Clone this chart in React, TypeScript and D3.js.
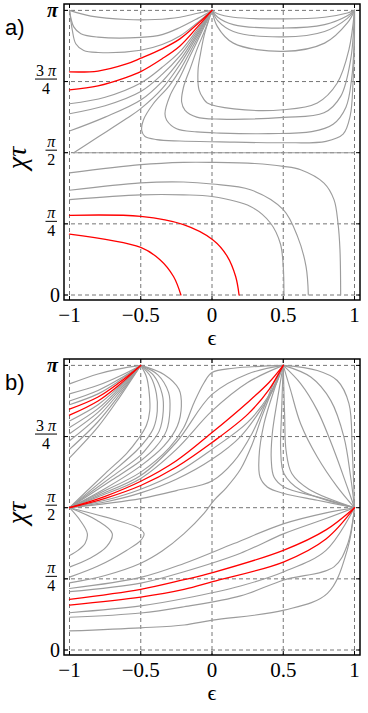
import React from "react";
import * as d3 from "d3";

type Pt = [number, number];

// ε axis ticks
const xTicks = [-1, -0.5, 0, 0.5, 1];
const xTickLabels = ["−1", "−0.5", "0", "0.5", "1"];
// χτ axis ticks in units of π
const yTicks = [0, 0.25, 0.5, 0.75, 1];
const yTickNumerators = ["0", "π", "π", "3 π", "π"];
const yTickDenominators = ["", "4", "2", "4", ""];

// ---------- Panel a ----------
const panelAGray: Pt[][] = [
  [[-1, 1], [-0.85, 0.98], [-0.6, 0.968], [-0.4, 0.968], [-0.225, 0.976], [-0.1, 0.99], [0, 1]],
  [[-1, 1], [-0.97, 0.942], [-0.92, 0.918], [-0.8, 0.906], [-0.5, 0.905], [-0.35, 0.915], [-0.225, 0.94], [-0.1, 0.972], [0, 1]],
  [[-1, 1], [-0.98, 0.93], [-0.956, 0.883], [-0.9, 0.859], [-0.8, 0.852], [-0.5, 0.86], [-0.35, 0.88], [-0.225, 0.91], [-0.1, 0.958], [0, 1]],
  [[-1, 0.672], [-0.75, 0.695], [-0.5, 0.745], [-0.35, 0.8], [-0.225, 0.855], [-0.1, 0.935], [0, 1]],
  [[-1, 0.637], [-0.75, 0.665], [-0.5, 0.715], [-0.35, 0.775], [-0.225, 0.84], [-0.1, 0.928], [0, 1]],
  [[-1, 0.576], [-0.75, 0.625], [-0.5, 0.685], [-0.35, 0.75], [-0.225, 0.825], [-0.1, 0.921], [0, 1]],
  [[-0.97, 0.5], [-0.8, 0.555], [-0.6, 0.62], [-0.5, 0.655], [-0.35, 0.725], [-0.225, 0.81], [-0.1, 0.914], [0, 1]],
  [[0, 1], [-0.1, 0.905], [-0.225, 0.79], [-0.3, 0.735], [-0.412, 0.672], [-0.482, 0.614], [-0.493, 0.578], [-0.47, 0.557], [-0.388, 0.546], [-0.225, 0.541], [0.056, 0.538], [0.5, 0.535], [0.8, 0.54], [0.92, 0.565], [0.97, 0.63], [0.99, 0.75], [0.999, 0.88], [1, 1]],
  [[0, 1], [-0.1, 0.895], [-0.154, 0.84], [-0.225, 0.765], [-0.295, 0.7], [-0.33, 0.637], [-0.318, 0.614], [-0.248, 0.584], [-0.107, 0.573], [0.056, 0.569], [0.4, 0.567], [0.7, 0.574], [0.85, 0.6], [0.94, 0.66], [0.98, 0.76], [0.997, 0.88], [1, 1]],
  [[0, 1], [-0.05, 0.93], [-0.1, 0.87], [-0.15, 0.8], [-0.2, 0.73], [-0.213, 0.678], [-0.189, 0.649], [-0.107, 0.625], [0.056, 0.618], [0.5, 0.624], [0.786, 0.64], [0.903, 0.698], [0.973, 0.827], [1, 1]],
  [[0, 1], [-0.03, 0.955], [-0.056, 0.91], [-0.08, 0.85], [-0.098, 0.79], [-0.091, 0.721], [-0.06, 0.69], [-0.033, 0.675], [0.154, 0.654], [0.5, 0.651], [0.739, 0.675], [0.879, 0.745], [0.961, 0.862], [1, 1]],
  [[0, 1], [0.04, 0.988], [0.15, 0.976], [0.5, 0.97], [0.79, 0.976], [0.95, 0.991], [1, 1]],
  [[0, 1], [0.04, 0.976], [0.15, 0.95], [0.5, 0.938], [0.79, 0.95], [0.95, 0.981], [1, 1]],
  [[0, 1], [0.04, 0.964], [0.15, 0.926], [0.5, 0.907], [0.79, 0.926], [0.95, 0.972], [1, 1]],
  [[0, 1], [0.037, 0.944], [0.15, 0.885], [0.5, 0.856], [0.79, 0.885], [0.95, 0.956], [1, 1]],
  [[-0.97, 0.5], [0, 0.5], [1, 0.5]],
  [[-1, 0.429], [-0.5, 0.458], [-0.2, 0.466], [0, 0.466], [0.3, 0.462], [0.5, 0.452], [0.622, 0.44], [0.786, 0.393], [0.856, 0.335], [0.884, 0.253], [0.898, 0.159], [0.903, 0]],
  [[-1, 0.368], [-0.5, 0.394], [-0.2, 0.397], [0, 0.39], [0.27, 0.37], [0.5, 0.3], [0.6, 0.206], [0.66, 0.1], [0.676, 0]],
  [[-1, 0.335], [-0.5, 0.352], [-0.2, 0.352], [0, 0.346], [0.27, 0.311], [0.41, 0.253], [0.48, 0.18], [0.5, 0.1], [0.505, 0]],
];
const panelARed: Pt[][] = [
  [[-1, 0.784], [-0.8, 0.787], [-0.6, 0.812], [-0.5, 0.832], [-0.35, 0.865], [-0.225, 0.9], [-0.1, 0.953], [0, 1]],
  [[-1, 0.721], [-0.8, 0.735], [-0.6, 0.765], [-0.5, 0.785], [-0.35, 0.83], [-0.225, 0.875], [-0.1, 0.943], [0, 1]],
  [[-1, 0.28], [-0.5, 0.276], [-0.2, 0.247], [0.005, 0.194], [0.107, 0.136], [0.166, 0.065], [0.19, 0]],
  [[-1, 0.214], [-0.5, 0.167], [-0.365, 0.124], [-0.27, 0.065], [-0.218, 0]],
];

// ---------- Panel b ----------
const panelBGray: Pt[][] = [
  // fan from (-0.5, π) to the left edge
  [[-1, 0.935], [-0.8, 0.97], [-0.65, 0.988], [-0.5, 1]],
  [[-1, 0.9], [-0.8, 0.93], [-0.65, 0.962], [-0.5, 1]],
  [[-1, 0.875], [-0.8, 0.912], [-0.65, 0.952], [-0.5, 1]],
  [[-1, 0.862], [-0.8, 0.9], [-0.65, 0.946], [-0.5, 1]],
  [[-1, 0.805], [-0.8, 0.862], [-0.65, 0.926], [-0.5, 1]],
  [[-1, 0.782], [-0.8, 0.848], [-0.65, 0.92], [-0.5, 1]],
  [[-1, 0.76], [-0.8, 0.835], [-0.65, 0.913], [-0.5, 1]],
  [[-1, 0.735], [-0.8, 0.82], [-0.65, 0.905], [-0.5, 1]],
  [[-1, 0.705], [-0.8, 0.802], [-0.65, 0.896], [-0.5, 1]],
  [[-1, 0.675], [-0.8, 0.784], [-0.65, 0.887], [-0.5, 1]],
  // loops from (-0.5, π) to (-1, π/2)
  [[-0.5, 1], [-0.46, 0.96], [-0.44, 0.9], [-0.437, 0.84], [-0.46, 0.79], [-0.52, 0.74], [-0.6, 0.69], [-0.75, 0.62], [-1, 0.5]],
  [[-0.5, 1], [-0.43, 0.96], [-0.39, 0.9], [-0.384, 0.84], [-0.41, 0.78], [-0.46, 0.74], [-0.53, 0.7], [-0.7, 0.625], [-1, 0.5]],
  [[-0.5, 1], [-0.41, 0.965], [-0.35, 0.9], [-0.342, 0.84], [-0.37, 0.77], [-0.44, 0.72], [-0.5, 0.685], [-0.7, 0.61], [-1, 0.5]],
  [[-0.5, 1], [-0.38, 0.967], [-0.305, 0.905], [-0.295, 0.845], [-0.32, 0.77], [-0.4, 0.71], [-0.5, 0.665], [-0.7, 0.598], [-1, 0.5]],
  [[-0.5, 1], [-0.337, 0.968], [-0.232, 0.916], [-0.215, 0.857], [-0.243, 0.787], [-0.337, 0.717], [-0.5, 0.647], [-0.758, 0.565], [-1, 0.5]],
  // fan from (-1, π/2) to (0.5, π)
  [[-1, 0.5], [-0.8, 0.548], [-0.5, 0.625], [-0.3, 0.71], [-0.2, 0.78], [-0.126, 0.869], [-0.056, 0.939], [0, 0.975], [0.15, 0.99], [0.5, 1]],
  [[-1, 0.5], [-0.8, 0.543], [-0.5, 0.613], [-0.25, 0.73], [0, 0.898], [0.25, 0.97], [0.5, 1]],
  [[-1, 0.5], [-0.8, 0.538], [-0.5, 0.603], [-0.25, 0.705], [0, 0.84], [0.25, 0.94], [0.5, 1]],
  [[-1, 0.5], [-0.75, 0.526], [-0.5, 0.565], [-0.25, 0.622], [0, 0.705], [0.25, 0.8], [0.4, 0.895], [0.5, 1]],
  [[-1, 0.5], [-0.75, 0.52], [-0.5, 0.552], [-0.25, 0.6], [0, 0.67], [0.2, 0.75], [0.35, 0.85], [0.45, 0.935], [0.5, 1]],
  [[-1, 0.5], [-0.5, 0.532], [-0.25, 0.56], [0, 0.594], [0.15, 0.66], [0.28, 0.76], [0.37, 0.86], [0.43, 0.935], [0.5, 1]],
  // curve rising from the left edge through (0, π/2) into (0.5, π)
  [[-1, 0.236], [-0.75, 0.262], [-0.5, 0.305], [-0.35, 0.348], [-0.196, 0.409], [-0.056, 0.48], [0.014, 0.526], [0.1, 0.57], [0.2, 0.635], [0.28, 0.72], [0.35, 0.82], [0.425, 0.915], [0.5, 1]],
  // curves from (0.5, π) to (1, π/2)
  [[0.5, 1], [0.435, 0.912], [0.365, 0.795], [0.33, 0.678], [0.337, 0.608], [0.388, 0.573], [0.505, 0.55], [0.739, 0.526], [1, 0.5]],
  [[0.5, 1], [0.458, 0.877], [0.423, 0.76], [0.416, 0.667], [0.435, 0.608], [0.505, 0.573], [0.739, 0.538], [1, 0.5]],
  [[0.5, 1], [0.487, 0.819], [0.482, 0.702], [0.505, 0.62], [0.622, 0.561], [1, 0.5]],
  [[0.5, 1], [0.51, 0.82], [0.52, 0.7], [0.56, 0.62], [0.68, 0.565], [1, 0.5]],
  [[0.5, 1], [0.552, 0.912], [0.622, 0.795], [0.739, 0.678], [0.879, 0.573], [1, 0.5]],
  [[0.5, 1], [0.622, 0.936], [0.739, 0.842], [0.856, 0.702], [0.949, 0.573], [1, 0.5]],
  [[0.5, 1], [0.693, 0.959], [0.833, 0.877], [0.926, 0.748], [0.973, 0.608], [1, 0.5]],
  [[0.5, 1], [0.739, 0.982], [0.879, 0.947], [0.961, 0.866], [0.984, 0.702], [1, 0.5]],
  // loops below (-1, π/2)
  [[-1, 0.5], [-0.926, 0.456], [-0.875, 0.409], [-0.891, 0.374], [-0.938, 0.351], [-0.996, 0.333]],
  [[-1, 0.5], [-0.809, 0.456], [-0.7, 0.409], [-0.74, 0.363], [-0.856, 0.322], [-0.996, 0.292]],
  [[-1, 0.5], [-0.67, 0.456], [-0.52, 0.43], [-0.477, 0.409], [-0.5, 0.385], [-0.6, 0.35], [-0.8, 0.295], [-1, 0.256]],
  // fan into (1, π/2) from the left edge
  [[-1, 0.216], [-0.5, 0.255], [-0.196, 0.304], [0.154, 0.374], [0.505, 0.444], [0.8, 0.482], [1, 0.5]],
  [[-1, 0.205], [-0.5, 0.235], [-0.196, 0.275], [0.2, 0.34], [0.505, 0.409], [0.8, 0.462], [1, 0.5]],
  [[-1, 0.131], [-0.5, 0.155], [-0.196, 0.181], [0.2, 0.225], [0.505, 0.275], [0.8, 0.35], [1, 0.5]],
  [[-1, 0.115], [-0.5, 0.13], [-0.196, 0.152], [0.2, 0.19], [0.505, 0.246], [0.856, 0.292], [0.95, 0.37], [1, 0.5]],
  [[-1, 0.067], [-0.5, 0.078], [-0.196, 0.088], [0.005, 0.105], [0.505, 0.14], [0.81, 0.199], [0.949, 0.351], [1, 0.5]],
];
const panelBRed: Pt[][] = [
  [[-1, 0.846], [-0.8, 0.889], [-0.65, 0.94], [-0.5, 1]],
  [[-1, 0.825], [-0.8, 0.875], [-0.65, 0.932], [-0.5, 1]],
  [[-1, 0.5], [-0.75, 0.54], [-0.5, 0.593], [-0.25, 0.665], [0, 0.764], [0.25, 0.87], [0.4, 0.94], [0.5, 1]],
  [[-1, 0.5], [-0.75, 0.533], [-0.5, 0.578], [-0.25, 0.643], [0, 0.729], [0.25, 0.828], [0.4, 0.915], [0.5, 1]],
  [[-1, 0.178], [-0.5, 0.213], [-0.196, 0.247], [0.005, 0.272], [0.505, 0.351], [0.8, 0.422], [1, 0.5]],
  [[-1, 0.158], [-0.5, 0.186], [-0.196, 0.213], [0.005, 0.24], [0.505, 0.31], [0.8, 0.39], [1, 0.5]],
];

const SERIF = '"Liberation Serif", "DejaVu Serif", "Times New Roman", serif';
const SANS = '"Liberation Sans", "DejaVu Sans", Arial, sans-serif';

function Panel({ top, label, gray, red, id }: { top: number; label: string; gray: Pt[][]; red: Pt[][]; id: string }) {
  const left = 64;
  const right = 360;
  const bottom = top + 296;
  const x = d3.scaleLinear().domain([-1, 1]).range([69.5, 354.5]);
  const y = d3.scaleLinear().domain([0, 1]).range([bottom - 5, top + 6.4]);
  const line = d3
    .line<Pt>()
    .x((d) => x(d[0]))
    .y((d) => y(d[1]))
    .curve(d3.curveCatmullRom.alpha(0.5));
  const clipId = `clip-${id}`;
  return (
    <g>
      <defs>
        <clipPath id={clipId}>
          <rect x={left} y={top} width={right - left} height={bottom - top} />
        </clipPath>
      </defs>
      {/* grid */}
      {xTicks.map((t) => (
        <line key={`gx${t}`} x1={x(t)} x2={x(t)} y1={top} y2={bottom} stroke="#666" strokeWidth={0.9} strokeDasharray="4 3" />
      ))}
      {yTicks.map((t) => (
        <line key={`gy${t}`} x1={left} x2={right} y1={y(t)} y2={y(t)} stroke="#666" strokeWidth={0.9} strokeDasharray="4 3" />
      ))}
      {/* curves */}
      <g clipPath={`url(#${clipId})`} fill="none" strokeLinejoin="round" strokeLinecap="round">
        {gray.map((c, i) => (
          <path key={`g${i}`} d={line(c) || ""} stroke="#9c9c9c" strokeWidth={1.15} />
        ))}
        {red.map((c, i) => (
          <path key={`r${i}`} d={line(c) || ""} stroke="#ff0000" strokeWidth={1.3} />
        ))}
      </g>
      {/* ticks */}
      {xTicks.map((t) => (
        <g key={`tx${t}`}>
          <line x1={x(t)} x2={x(t)} y1={bottom} y2={bottom - 4} stroke="#000" strokeWidth={1} />
          <line x1={x(t)} x2={x(t)} y1={top} y2={top + 4} stroke="#000" strokeWidth={1} />
        </g>
      ))}
      {yTicks.map((t) => (
        <g key={`ty${t}`}>
          <line x1={left} x2={left + 4} y1={y(t)} y2={y(t)} stroke="#000" strokeWidth={1} />
          <line x1={right} x2={right - 4} y1={y(t)} y2={y(t)} stroke="#000" strokeWidth={1} />
        </g>
      ))}
      {/* frame */}
      <rect x={left} y={top} width={right - left} height={bottom - top} fill="none" stroke="#000" strokeWidth={1.5} />
      {/* x tick labels */}
      {xTicks.map((t, i) => (
        <text key={`lx${t}`} x={x(t)} y={bottom + 21.5} textAnchor="middle" fontFamily={SERIF} fontSize={21}>
          {xTickLabels[i]}
        </text>
      ))}
      {/* y tick labels */}
      {yTicks.map((t, i) => {
        const yy = y(t);
        if (i === 0) {
          return (
            <text key="ly0" x={60} y={yy + 6.8} textAnchor="end" fontFamily={SERIF} fontSize={20}>
              {yTickNumerators[i]}
            </text>
          );
        }
        if (i === yTicks.length - 1) {
          return (
            <text key="lyTop" x={58} y={yy + 6.5} textAnchor="end" fontFamily={SERIF} fontSize={20} fontStyle="italic" fontWeight="bold">
              {yTickNumerators[i]}
            </text>
          );
        }
        const bar = yy - 2.5;
        const wide = yTickNumerators[i].length > 1;
        const x0 = wide ? 35 : 45.5;
        const x1 = 57;
        const cx = (x0 + x1) / 2;
        return (
          <g key={`lyf${t}`} fontFamily={SERIF}>
            <text x={cx} y={bar - 3} textAnchor="middle" fontSize={16} fontStyle={wide ? "normal" : "italic"}>
              {wide ? (
                <>
                  <tspan>3 </tspan>
                  <tspan fontStyle="italic">π</tspan>
                </>
              ) : (
                yTickNumerators[i]
              )}
            </text>
            <line x1={x0} x2={x1} y1={bar} y2={bar} stroke="#000" strokeWidth={1} />
            <text x={cx} y={bar + 14.5} textAnchor="middle" fontSize={16}>
              {yTickDenominators[i]}
            </text>
          </g>
        );
      })}
      {/* axis labels */}
      <text x={212} y={bottom + 45} textAnchor="middle" fontFamily={SERIF} fontSize={22}>
        ϵ
      </text>
      <text transform={`translate(26, ${(top + bottom) / 2 + 6}) rotate(-90)`} textAnchor="middle" fontFamily={SERIF} fontSize={28} fontStyle="italic">
        χτ
      </text>
      <text x={5} y={top + 31} fontFamily={SANS} fontSize={22}>
        {label}
      </text>
    </g>
  );
}

export default function App() {
  return (
    <svg width={368} height={713} style={{ position: "absolute", left: 0, top: 0, background: "#fff" }}>
      <rect x={0} y={0} width={368} height={713} fill="#fff" />
      <Panel id="a" top={4} label="a)" gray={panelAGray} red={panelARed} />
      <Panel id="b" top={359} label="b)" gray={panelBGray} red={panelBRed} />
    </svg>
  );
}
